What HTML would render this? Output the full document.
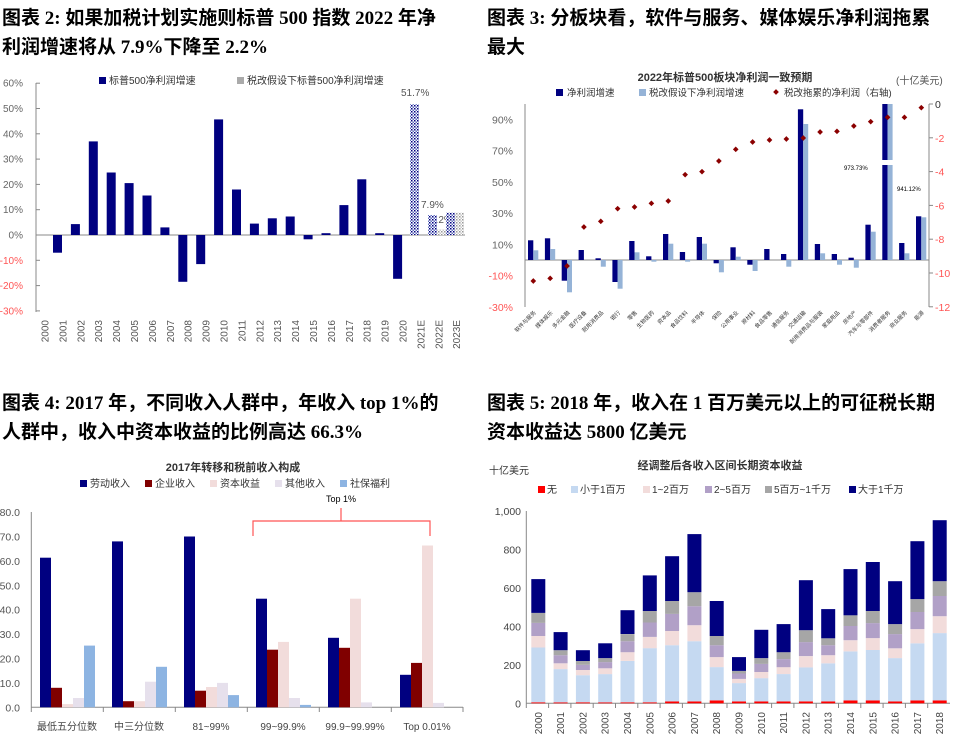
<!DOCTYPE html>
<html><head><meta charset="utf-8"><style>
html,body{margin:0;padding:0;background:#fff;}
svg{display:block;font-family:"Liberation Sans","Noto Sans CJK SC",sans-serif;}
.t{font-family:"Liberation Serif","Noto Sans CJK SC",serif;font-weight:bold;font-size:19px;fill:#000;}
</style></head><body>
<svg id="s" width="964" height="749" viewBox="0 0 964 749" xmlns="http://www.w3.org/2000/svg">
<defs>
<pattern id="hb" width="3" height="3" patternUnits="userSpaceOnUse"><rect width="3" height="3" fill="#fff"/><rect width="1.5" height="1.5" fill="#000080"/><rect x="1.5" y="1.5" width="1.5" height="1.5" fill="#6070c0"/></pattern>
<pattern id="hg" width="3" height="3" patternUnits="userSpaceOnUse"><rect width="3" height="3" fill="#fff"/><rect width="1.5" height="1.5" fill="#999"/><rect x="1.5" y="1.5" width="1.5" height="1.5" fill="#ccc"/></pattern>
</defs>
<text class="t" x="2" y="24">图表 2: 如果加税计划实施则标普 500 指数 2022 年净</text>
<text class="t" x="2" y="53">利润增速将从 7.9%下降至 2.2%</text>
<text class="t" x="487" y="24">图表 3: 分板块看，软件与服务、媒体娱乐净利润拖累</text>
<text class="t" x="487" y="53">最大</text>
<text class="t" x="2" y="409">图表 4: 2017 年，不同收入人群中，年收入 top 1%的</text>
<text class="t" x="2" y="438">人群中，收入中资本收益的比例高达 66.3%</text>
<text class="t" x="487" y="409">图表 5: 2018 年，收入在 1 百万美元以上的可征税长期</text>
<text class="t" x="487" y="438">资本收益达 5800 亿美元</text>

<rect x="99" y="77" width="7" height="7" fill="#000080"/><text x="109" y="84" font-size="10" fill="#333">标普500净利润增速</text>
<rect x="237" y="77" width="7" height="7" fill="#aaa"/><text x="247" y="84" font-size="10" fill="#333">税改假设下标普500净利润增速</text>
<text x="401" y="96" font-size="10" fill="#555">51.7%</text>
<text x="421" y="208" font-size="10" fill="#555">7.9%</text>
<text x="430" y="223" font-size="10" fill="#555">2.2%</text>

<text x="725" y="81" font-size="11" font-weight="bold" fill="#333" text-anchor="middle">2022年标普500板块净利润一致预期</text>
<text x="896" y="84" font-size="10" fill="#555">(十亿美元)</text>
<rect x="556" y="89" width="7" height="7" fill="#000080"/><text x="567" y="96" font-size="9.5" fill="#333">净利润增速</text>
<rect x="639" y="89" width="7" height="7" fill="#95b3d7"/><text x="649" y="96" font-size="9.5" fill="#333">税改假设下净利润增速</text>
<rect x="774" y="90" width="4" height="4" fill="#8b0000" transform="rotate(45 776 92)"/><text x="784" y="96" font-size="9.5" fill="#333">税改拖累的净利润（右轴)</text>
<text x="844" y="170" font-size="6" fill="#000">973.73%</text>
<text x="897" y="191" font-size="6" fill="#000">941.12%</text>

<text x="233" y="471" font-size="11" font-weight="bold" fill="#333" text-anchor="middle">2017年转移和税前收入构成</text>
<text x="326" y="502" font-size="9" fill="#000">Top 1%</text>
<path d="M253 536V521H430V536M341 521V508" fill="none" stroke="#f55" stroke-width="1.2"/>

<text x="720" y="469" font-size="11" font-weight="bold" fill="#333" text-anchor="middle">经调整后各收入区间长期资本收益</text>
<text x="489" y="474" font-size="10" fill="#333">十亿美元</text>
<g id="g"></g>
</svg>
<script>
var g=document.getElementById('g'),h='';
function R(x,y,w,hh,f){if(hh<0){y+=hh;hh=-hh;}h+='<rect x="'+x.toFixed(1)+'" y="'+y.toFixed(1)+'" width="'+w+'" height="'+hh.toFixed(1)+'" fill="'+f+'"/>';}
function T(x,y,s,fs,f,a,rot){h+='<text x="'+x.toFixed(1)+'" y="'+y.toFixed(1)+'" font-size="'+fs+'" fill="'+f+'"'+(a?' text-anchor="'+a+'"':'')+(rot!=null?' transform="rotate('+rot+' '+x.toFixed(1)+' '+y.toFixed(1)+')"':'')+'>'+s+'</text>';}
function L(x1,y1,x2,y2,c){h+='<line x1="'+x1+'" y1="'+y1+'" x2="'+x2+'" y2="'+y2+'" stroke="'+c+'" stroke-width="1"/>';}
var y0=235,sc=2.53;
for(var v=60;v>=-30;v-=10){var y=y0-v*sc;T(23,y+3.5,v+'%',10,v<0?'#f55':'#666','end');L(36,y,40,y,'#888');}
L(36,83,36,312,'#888');L(36,235,465,235,'#888');
var d1=[-7,4.3,37,24.7,20.5,15.6,3,-18.5,-11.5,45.7,18,4.5,6.6,7.3,-1.7,0.7,11.8,22,0.7,-17.3];
for(var i=0;i<d1.length;i++){R(53+i*17.9,y0,9,-d1[i]*sc,'#000080');}
R(410,y0,9,-51.7*sc,'url(#hb)');R(428,y0,9,-7.9*sc,'url(#hb)');R(437,y0,9,-2.2*sc,'url(#hg)');R(446,y0,9,-8.8*sc,'url(#hb)');R(455,y0,9,-8.8*sc,'url(#hg)');
var yr=['2000','2001','2002','2003','2004','2005','2006','2007','2008','2009','2010','2011','2012','2013','2014','2015','2016','2017','2018','2019','2020','2021E','2022E','2023E'];
for(var i=0;i<24;i++){var x=45+i*17.9+3.5;T(x,320,yr[i],10,'#555','end',-90);}
var z0=260,s2=1.563,ry=104,rs=16.9;
[[90,'#666'],[70,'#666'],[50,'#666'],[30,'#666'],[10,'#666'],[-10,'#f55'],[-30,'#f55']].forEach(function(a){T(513,z0-a[0]*s2+4,a[0]+'%',10.5,a[1],'end');});
for(var k=0;k<=6;k++){var y=ry+k*2*rs;T(935,y+4,k?('-'+2*k):'0',10.5,k?'#f55':'#333');L(929,y,933,y,'#888');}
L(525,104,525,307,'#888');L(929,104,929,307,'#888');L(525,260,929,260,'#888');
var dk=[541,535,662,570,595,666,543,589,522,576,531,610,562,614,567,582,148,552,582,593,494,132,549,469];
var lt=[571,567,697,600,620,686,577,605,551,605,551,637,590,633,600,620,192,580,614,623,515,132,580,472];
var dm=[663,655,618,501,484,446,441,430,423,344,335,303,268,246,240,237,234,216,214,198,185,172,172,143];
var nm=['软件与服务','媒体娱乐','多元金融','医疗设备','耐用消费品','银行','零售','生物医药','资本品','食品饮料','半导体','保险','公用事业','原材料','食品零售','通信服务','交通运输','耐用消费品与服装','家庭用品','房地产','汽车与零部件','消费者服务','商业服务','能源'];
for(var i=0;i<24;i++){var x=528+i*16.87;R(x,260,5.3,(dk[i]-600)/3,'#000080');R(x+5.3,260,5,(lt[i]-600)/3,'#95b3d7');}
R(880,160,14,5,'#fff');
for(var i=0;i<24;i++){var x=533.3+i*16.87,y=60+dm[i]/3;h+='<rect x="'+(x-2)+'" y="'+(y-2)+'" width="4" height="4" fill="#8b0000" transform="rotate(45 '+x+' '+y+')"/>';T(x+3,313,nm[i],5.5,'#333','end',-45);}
var b3=707.3,s3=2.44;
for(var v=0;v<=80;v+=10){T(20,b3-v*s3+4,v.toFixed(1),10.5,'#555','end');}
L(31.3,512,31.3,707,'#888');L(31.3,707.3,463,707.3,'#888');
var d3=[[61.3,8,1.3,3.8,25.3],[68,2.5,2.5,10.5,16.6],[70,6.8,8.3,10,5],[44.5,23.6,26.8,3.8,1],[28.5,24.4,44.5,2,0],[13.3,18.2,66.3,1.8,0]];
var c3=['#000080','#800000','#f2dcdb','#e6e0ec','#8db4e2'];
var gl=['最低五分位数','中三分位数','81~99%','99~99.9%','99.9~99.99%','Top 0.01%'];
for(var gi=0;gi<6;gi++){for(var j=0;j<5;j++){R(40+gi*72+j*11,b3,11,-d3[gi][j]*s3,c3[j]);}L(31.3+gi*72,707,31.3+gi*72,712,'#888');T(67+gi*72,730,gl[gi],10,'#444','middle');}
L(463,707,463,712,'#888');
var l3=['劳动收入','企业收入','资本收益','其他收入','社保福利'];
for(var j=0;j<5;j++){R(80+j*65,480,7,7,c3[j]);T(90+j*65,487,l3[j],10,'#333');}
var b4=703.3,s4=0.1923;
[[0,'0'],[200,'200'],[400,'400'],[600,'600'],[800,'800'],[1000,'1,000']].forEach(function(a){T(521,b4-a[0]*s4+4,a[1],10.5,'#444','end');});
L(526.3,511,526.3,703,'#888');L(526.3,703.3,950,703.3,'#888');
var d4=[[5,290,350,418,470,646],[5,178,208,250,276,370],[5,146,173,200,220,276],[5,152,182,214,235,312],[5,220,266,323,360,484],[5,287,345,420,480,665],[10,302,376,465,532,765],[10,323,406,505,578,880],[15,188,240,302,350,532],[10,105,127,155,168,240],[10,131,163,205,235,382],[10,152,188,230,266,412],[10,187,245,318,380,640],[10,208,250,302,338,490],[15,270,328,402,458,698],[15,277,339,417,480,735],[10,235,286,360,412,635],[15,312,386,475,542,843],[15,365,453,558,635,952]];
var c4=['#ff0000','#c5d9f1','#f2dcdb','#b1a0c7','#a6a6a6','#000080'];
for(var i=0;i<19;i++){var x=531.3+i*22.3,p=0;for(var j=0;j<6;j++){var v=d4[i][j];R(x,b4-v*s4,14,(v-p)*s4,c4[j]);p=v;}L(526.3+i*22.3,703,526.3+i*22.3,708,'#888');T(x+10.5,712,String(2000+i),10,'#444','end',-90);}
var l4=['无','小于1百万','1~2百万','2~5百万','5百万~1千万','大于1千万'],lx=[538,571,643,705,765,849];
for(var j=0;j<6;j++){R(lx[j],486,7,7,c4[j]);T(lx[j]+9,493,l4[j],10,'#333');}
g.innerHTML=h;
</script>
</body></html>
